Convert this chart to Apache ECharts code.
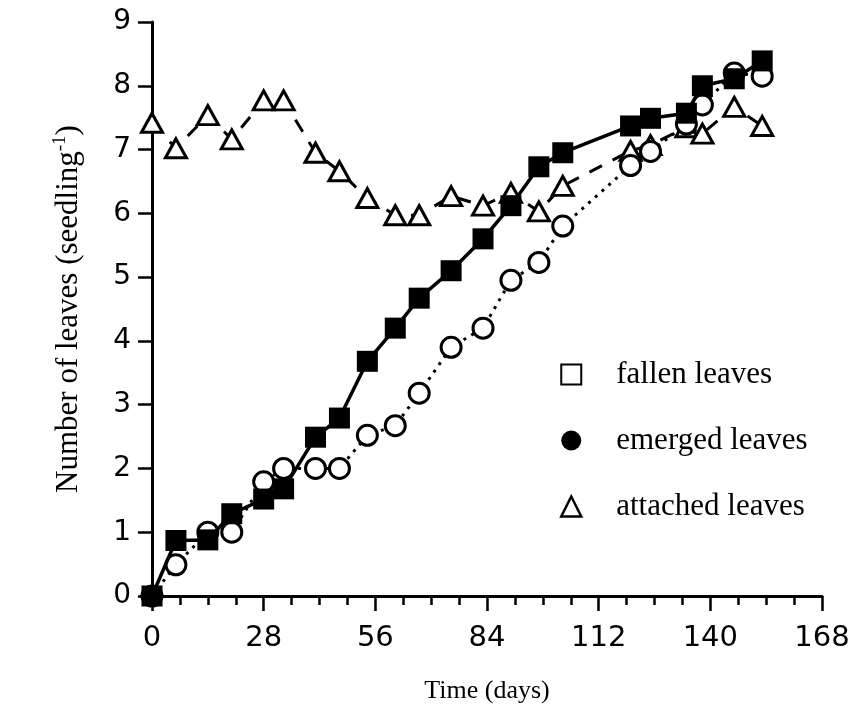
<!DOCTYPE html>
<html>
<head>
<meta charset="utf-8">
<script src="https://cdn.jsdelivr.net/npm/echarts@6/dist/echarts.min.js"></script>
<style>
html,body{margin:0;padding:0;background:#fff;}
#chart{width:856px;height:704px;}
</style>
</head>
<body>
<div id="chart"></div>
<script>
// Sampling days (x)
const days = [0, 6, 14, 20, 28, 33, 41, 47, 54, 61, 67, 75, 83, 90, 97, 103, 120, 125, 134, 138, 146, 153];
// Filled squares, solid line
const emerged = [0, 0.87, 0.88, 1.29, 1.52, 1.68, 2.49, 2.79, 3.68, 4.2, 4.67, 5.1, 5.6, 6.12, 6.73, 6.95, 7.37, 7.49, 7.57, 8.0, 8.11, 8.39];
// Open circles, dotted line
const fallen = [0, 0.49, 1.0, 1.0, 1.79, 2.0, 2.0, 2.0, 2.52, 2.67, 3.18, 3.9, 4.2, 4.95, 5.23, 5.8, 6.75, 6.97, 7.4, 7.7, 8.2, 8.15];
// Open triangles, dashed line
const attached = [7.42, 7.02, 7.54, 7.16, 7.77, 7.77, 6.95, 6.66, 6.24, 5.97, 5.97, 6.27, 6.12, 6.32, 6.03, 6.43, 6.98, 7.07, 7.35, 7.25, 7.67, 7.37];
const xTicks = [0, 28, 56, 84, 112, 140, 168];
const legendNames = ['fallen leaves', 'emerged leaves', 'attached leaves'];

const pair = (ys) => days.map((d, i) => [d, ys[i]]);

const chart = echarts.init(document.getElementById('chart'), null, {renderer: 'canvas'});
const serif = 'Liberation Serif';
const sans = 'DejaVu Sans';

chart.setOption({
  animation: false,
  backgroundColor: '#fff',
  grid: {left: 152, right: 34, top: 22, bottom: 108, containLabel: false, outerBoundsMode: 'none'},
  xAxis: {
    type: 'value', min: xTicks[0], max: xTicks[xTicks.length - 1], interval: 28,
    name: 'Time (days)', nameLocation: 'middle', nameGap: 82,
    nameTextStyle: {fontFamily: serif, fontSize: 26, color: '#000'},
    axisLine: {show: true, onZero: false, lineStyle: {color: '#000', width: 3}},
    axisTick: {show: true, inside: false, length: 15, lineStyle: {color: '#000', width: 2.5}},
    minorTick: {show: true, splitNumber: 4, length: 9, lineStyle: {color: '#000', width: 2.5}},
    splitLine: {show: false},
    axisLabel: {fontFamily: sans, fontSize: 29, color: '#000', margin: 28}
  },
  yAxis: {
    type: 'value', min: 0, max: 9, interval: 1,
    name: '{n|Number of leaves (seedling}{s|-1}{n|)}', nameLocation: 'middle', nameGap: 66, nameRotate: 90,
    nameTextStyle: {fontFamily: serif, fontSize: 31, color: '#000',
      rich: {n: {fontFamily: serif, fontSize: 31, color: '#000'},
             s: {fontFamily: serif, fontSize: 19, color: '#000', padding: [0, 0, 16, 0]}}},
    axisLine: {show: true, onZero: false, lineStyle: {color: '#000', width: 3}},
    axisTick: {show: true, inside: false, length: 14, lineStyle: {color: '#000', width: 2.5}},
    splitLine: {show: false},
    axisLabel: {fontFamily: sans, fontSize: 28, color: '#000', margin: 21}
  },
  legend: {
    orient: 'vertical', left: 555, top: 354, itemGap: 35, itemWidth: 20, itemHeight: 20,
    textStyle: {fontFamily: serif, fontSize: 31, color: '#000', padding: [0, 0, 0, 30]},
    data: [
      {name: legendNames[0], icon: 'rect', itemStyle: {color: '#fff', borderColor: '#000', borderWidth: 2}},
      {name: legendNames[1], icon: 'circle', itemStyle: {color: '#000', borderColor: '#000', borderWidth: 0}},
      {name: legendNames[2], icon: 'triangle', itemStyle: {color: '#fff', borderColor: '#000', borderWidth: 2.5}}
    ]
  },
  series: [
    {
      name: legendNames[2], type: 'line', data: pair(attached), z: 2,
      symbol: 'triangle', symbolSize: [21, 19],
      itemStyle: {color: '#fff', borderColor: '#000', borderWidth: 3},
      lineStyle: {color: '#000', width: 3, type: [14, 12]}
    },
    {
      name: legendNames[0], type: 'line', data: pair(fallen), z: 3,
      symbol: 'circle', symbolSize: 20,
      itemStyle: {color: '#fff', borderColor: '#000', borderWidth: 3},
      lineStyle: {color: '#000', width: 3, type: [3, 6]}
    },
    {
      name: legendNames[1], type: 'line', data: pair(emerged), z: 4,
      symbol: 'rect', symbolSize: 21,
      itemStyle: {color: '#000', borderColor: '#000', borderWidth: 0},
      lineStyle: {color: '#000', width: 3.5, type: 'solid'}
    }
  ]
});
</script>
</body>
</html>
